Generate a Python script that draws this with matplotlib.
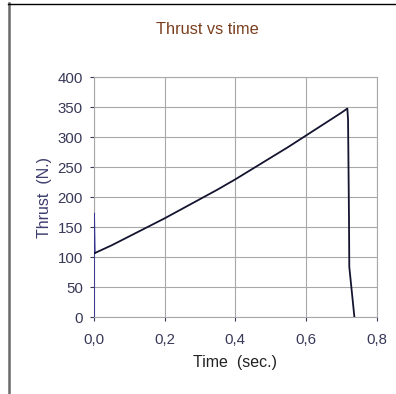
import matplotlib
matplotlib.use("Agg")
import matplotlib.pyplot as plt
from matplotlib.lines import Line2D
from matplotlib.ticker import FuncFormatter

plt.rcParams['font.family'] = ['Liberation Sans', 'DejaVu Sans']

# thrust curve
time_s = [0.0, 0.0, 0.002, 0.05, 0.1, 0.15, 0.2, 0.25, 0.3, 0.35, 0.4,
          0.45, 0.5, 0.55, 0.6, 0.65, 0.7, 0.717, 0.719, 0.7216, 0.7225, 0.737]
thrust_n = [0, 173, 107, 120, 135, 150, 165, 181, 197, 213, 230,
            248, 266, 284, 303, 322, 341, 348, 329, 168, 84, 0]
x_ticks = [0.0, 0.2, 0.4, 0.6, 0.8]
y_ticks = [0, 50, 100, 150, 200, 250, 300, 350, 400]

tick_col = '#383858'
grid_col = '#a8a8a8'

fig = plt.figure(figsize=(3.96, 3.94), dpi=100)
ax = fig.add_axes([0.2374, 0.1947, 0.7138, 0.609])

# ignition spike in blue, rest of the burn in dark navy
ax.plot(time_s[:3], thrust_n[:3], color='#34348f', lw=1.3, zorder=3)
ax.plot(time_s[2:], thrust_n[2:], color='#141430', lw=1.3, zorder=3)

ax.set_xlim(0, 0.8)
ax.set_ylim(0, 400)
ax.set_xticks(x_ticks)
ax.set_yticks(y_ticks)
ax.xaxis.set_major_formatter(FuncFormatter(lambda v, p: f'{v:.1f}'.replace('.', ',')))
ax.grid(True, color=grid_col, lw=0.8)
ax.set_axisbelow(True)
for s in ax.spines.values():
    s.set_color(grid_col)
    s.set_linewidth(0.8)
ax.tick_params(colors=tick_col, labelsize=10.8, length=3, width=0.8)
ax.tick_params(axis='x', pad=8)
ax.tick_params(axis='y', pad=5)

ax.set_xlabel('Time  (sec.)', fontsize=11.5, color='#222222', labelpad=6)
ax.set_ylabel('Thrust  (N.)', fontsize=11.5, color='#3c3c6e', labelpad=4)
fig.text(0.523, 0.925, 'Thrust vs time', ha='center', va='center',
         fontsize=11.8, color='#7a3f1e')

# the frame edges of the original screenshot
fig.add_artist(Line2D([8.5 / 396, 8.5 / 396], [0, 1 - 3 / 394],
                      transform=fig.transFigure, color='#6a6a6a', lw=1.8))
fig.add_artist(Line2D([8 / 396, 1], [1 - 3.5 / 394, 1 - 3.5 / 394],
                      transform=fig.transFigure, color='black', lw=1.0))

fig.savefig('out.png', dpi=100)
